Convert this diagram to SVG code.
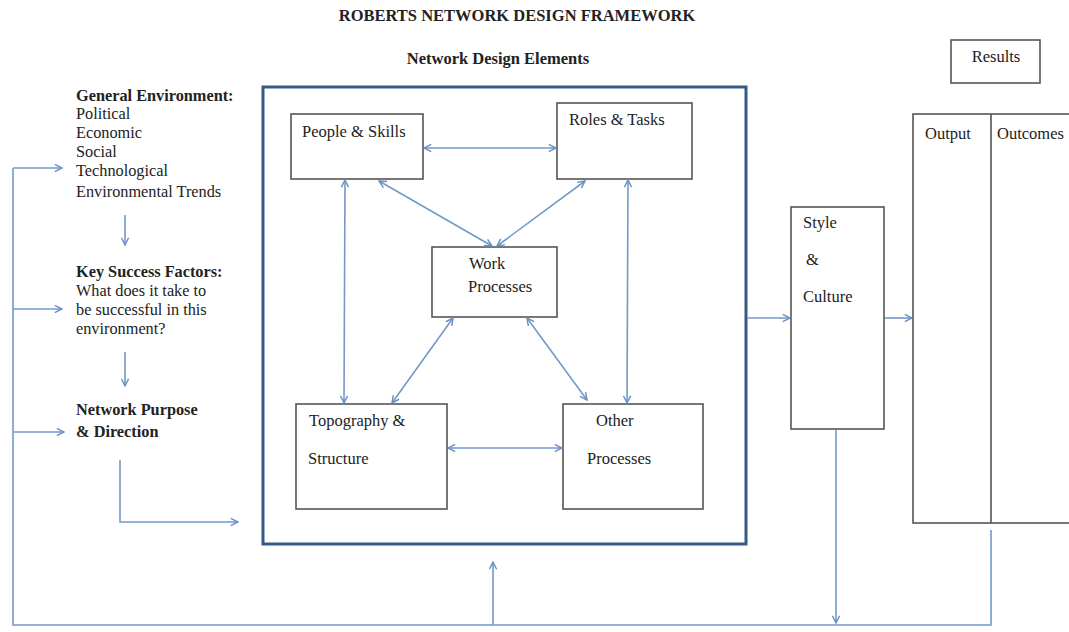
<svg xmlns="http://www.w3.org/2000/svg" width="1069" height="632" viewBox="0 0 1069 632">
<defs>
<marker id="ah" viewBox="0 0 10 10" refX="9" refY="5" markerWidth="9" markerHeight="9" markerUnits="userSpaceOnUse" orient="auto-start-reverse">
<path d="M1,1 L9,5 L1,9" fill="none" stroke="#6a90c2" stroke-width="1.6"/>
</marker>
</defs>
<style>
.t{font-family:"Liberation Serif","Times New Roman",serif;fill:#222;font-size:16.5px}
.b{font-weight:bold}
.lt{font-size:16.3px}
.box{fill:#fff;stroke:#555;stroke-width:1.6}
.c{fill:none;stroke:#7399c8;stroke-width:1.6}
.a{marker-end:url(#ah)}
.d{marker-start:url(#ah);marker-end:url(#ah)}
</style>
<rect width="1069" height="632" fill="#fff"/>
<text class="t b" x="517" y="21" text-anchor="middle" style="font-size:16.5px">ROBERTS NETWORK DESIGN FRAMEWORK</text>
<text class="t b" x="498" y="64" text-anchor="middle" style="font-size:16.5px">Network Design Elements</text>

<g id="results"><rect class="box" x="951" y="40" width="89" height="43"/><text class="t" x="996" y="62" text-anchor="middle">Results</text></g>

<g id="general-environment">
<text class="t lt b" x="76" y="101">General Environment:</text>
<text class="t lt" x="76" y="119">Political</text>
<text class="t lt" x="76" y="138">Economic</text>
<text class="t lt" x="76" y="157">Social</text>
<text class="t lt" x="76" y="176">Technological</text>
<text class="t lt" x="76" y="197">Environmental Trends</text>
</g>
<g id="key-success-factors">
<text class="t lt b" x="76" y="277">Key Success Factors:</text>
<text class="t lt" x="76" y="296">What does it take to</text>
<text class="t lt" x="76" y="315">be successful in this</text>
<text class="t lt" x="76" y="334">environment?</text>
</g>
<g id="network-purpose">
<text class="t lt b" x="76" y="415">Network Purpose</text>
<text class="t lt b" x="76" y="437">&amp; Direction</text>
</g>

<g id="design-elements"><rect x="263" y="87" width="483" height="457" fill="none" stroke="#345a85" stroke-width="3"/></g>

<g id="people-skills"><rect class="box" x="291" y="114" width="132" height="65"/><text class="t" x="302" y="137">People &amp; Skills</text></g>
<g id="roles-tasks"><rect class="box" x="557" y="103" width="135" height="76"/><text class="t" x="569" y="125">Roles &amp; Tasks</text></g>
<g id="work-processes"><rect class="box" x="432" y="247" width="125" height="70"/><text class="t" x="469" y="269">Work</text><text class="t" x="468" y="292">Processes</text></g>
<g id="topography-structure"><rect class="box" x="296" y="404" width="151" height="105"/><text class="t" x="309" y="426">Topography &amp;</text><text class="t" x="308" y="464">Structure</text></g>
<g id="other-processes"><rect class="box" x="563" y="404" width="140" height="105"/><text class="t" x="596" y="426">Other</text><text class="t" x="587" y="464">Processes</text></g>

<g id="style-culture"><rect class="box" x="791" y="207" width="93" height="222"/><text class="t" x="803" y="228">Style</text><text class="t" x="806" y="265">&amp;</text><text class="t" x="803" y="302">Culture</text></g>
<g id="output-outcomes"><rect class="box" x="913" y="114" width="170" height="409"/><line x1="991" y1="114" x2="991" y2="523" stroke="#555" stroke-width="1.6"/><text class="t" x="925" y="139">Output</text><text class="t" x="997" y="139">Outcomes</text></g>

<g id="connectors">
<line class="c d" x1="424" y1="148" x2="556" y2="148"/>
<line class="c d" x1="345" y1="180" x2="344" y2="403"/>
<line class="c d" x1="628" y1="180" x2="627" y2="403"/>
<line class="c d" x1="379" y1="181" x2="492" y2="246"/>
<line class="c d" x1="585" y1="181" x2="497" y2="246"/>
<line class="c d" x1="453" y1="318" x2="392" y2="403"/>
<line class="c d" x1="527" y1="318" x2="587" y2="400"/>
<line class="c d" x1="448" y1="448" x2="562" y2="448"/>
<line class="c a" x1="747" y1="318" x2="790" y2="318"/>
<line class="c a" x1="885" y1="318" x2="912" y2="318"/>
<line class="c a" x1="125" y1="215" x2="125" y2="245"/>
<line class="c a" x1="125" y1="352" x2="125" y2="386"/>
<polyline class="c a" points="120,460 120,522 238,522"/>
<line class="c a" x1="836" y1="430" x2="836" y2="623"/>
<polyline class="c" points="991,530 991,625 13,625 13,168"/>
<line class="c a" x1="13" y1="168" x2="62" y2="168"/>
<line class="c a" x1="13" y1="309" x2="62" y2="309"/>
<line class="c a" x1="13" y1="432" x2="64" y2="432"/>
<line class="c a" x1="493" y1="625" x2="493" y2="562"/>
</g>
</svg>
